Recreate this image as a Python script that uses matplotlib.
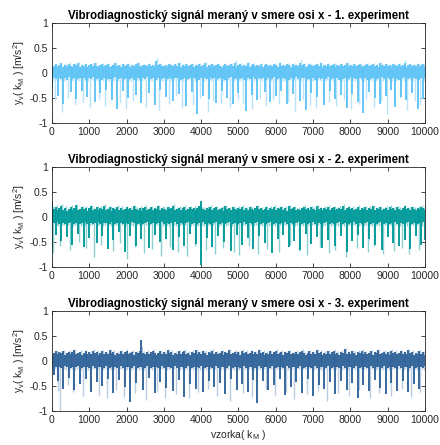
import matplotlib
matplotlib.use("Agg")
import matplotlib.pyplot as plt
import numpy as np

# the 10000 samples are far denser than the pixels, so each trace is kept as
# its top/bottom value in every 50-sample window
step = 50

hi1 = [0.10, 0.15, 0.18, 0.13, 0.16, 0.20, 0.12, 0.17, 0.14, 0.19,
       0.15, 0.12, 0.18, 0.16, 0.21, 0.13, 0.17, 0.15, 0.19, 0.12,
       0.16, 0.18, 0.14, 0.20, 0.15, 0.13, 0.17, 0.19, 0.14, 0.16,
       0.18, 0.12, 0.15, 0.17, 0.20, 0.14, 0.16, 0.13, 0.18, 0.15,
       0.17, 0.19, 0.13, 0.16, 0.14, 0.18, 0.21, 0.15, 0.12, 0.17,
       0.16, 0.14, 0.19, 0.15, 0.17, 0.13, 0.25, 0.16, 0.18, 0.14,
       0.15, 0.17, 0.13, 0.19, 0.16, 0.14, 0.18, 0.15, 0.20, 0.13,
       0.17, 0.15, 0.18, 0.14, 0.16, 0.19, 0.13, 0.17, 0.15, 0.18,
       0.14, 0.16, 0.20, 0.13, 0.17, 0.15, 0.19, 0.14, 0.16, 0.18,
       0.15, 0.13, 0.17, 0.19, 0.14, 0.16, 0.18, 0.15, 0.21, 0.13,
       0.16, 0.18, 0.14, 0.17, 0.15, 0.20, 0.13, 0.16, 0.19, 0.14,
       0.17, 0.15, 0.18, 0.13, 0.16, 0.19, 0.15, 0.17, 0.14, 0.18,
       0.16, 0.13, 0.20, 0.15, 0.17, 0.14, 0.19, 0.16, 0.13, 0.18,
       0.15, 0.17, 0.14, 0.21, 0.16, 0.18, 0.13, 0.15, 0.19, 0.17,
       0.14, 0.16, 0.18, 0.15, 0.20, 0.13, 0.17, 0.15, 0.18, 0.14,
       0.16, 0.19, 0.13, 0.17, 0.15, 0.18, 0.14, 0.16, 0.20, 0.13,
       0.17, 0.15, 0.19, 0.14, 0.16, 0.18, 0.15, 0.13, 0.17, 0.19,
       0.14, 0.16, 0.18, 0.15, 0.17, 0.13, 0.20, 0.16, 0.14, 0.18,
       0.15, 0.17, 0.13, 0.19, 0.16, 0.14, 0.18, 0.15, 0.17, 0.20,
       0.13, 0.16, 0.18, 0.14, 0.17, 0.15, 0.19, 0.13, 0.16, 0.18,
       0.12]
lo1 = [-0.30, -0.10, -0.12, -0.45, -0.09, -0.11, -0.62, -0.10, -0.13, -0.08,
       -0.38, -0.11, -0.09, -0.52, -0.12, -0.10, -0.35, -0.09, -0.13, -0.48,
       -0.10, -0.12, -0.08, -0.58, -0.11, -0.10, -0.40, -0.13, -0.09, -0.33,
       -0.11, -0.12, -0.55, -0.10, -0.08, -0.73, -0.12, -0.10, -0.36, -0.11,
       -0.09, -0.50, -0.12, -0.10, -0.13, -0.44, -0.09, -0.11, -0.60, -0.10,
       -0.12, -0.08, -0.39, -0.11, -0.10, -0.64, -0.13, -0.09, -0.34, -0.12,
       -0.10, -0.47, -0.11, -0.08, -0.12, -0.56, -0.10, -0.09, -0.41, -0.13,
       -0.11, -0.10, -0.67, -0.12, -0.09, -0.37, -0.10, -0.11, -0.83, -0.13,
       -0.09, -0.45, -0.10, -0.12, -0.52, -0.08, -0.11, -0.10, -0.61, -0.12,
       -0.09, -0.35, -0.11, -0.13, -0.49, -0.10, -0.08, -0.62, -0.12, -0.10,
       -0.40, -0.11, -0.09, -0.13, -0.76, -0.10, -0.12, -0.43, -0.08, -0.11,
       -0.54, -0.10, -0.12, -0.09, -0.38, -0.13, -0.10, -0.59, -0.11, -0.08,
       -0.46, -0.12, -0.10, -0.35, -0.09, -0.11, -0.63, -0.13, -0.10, -0.42,
       -0.12, -0.08, -0.11, -0.57, -0.10, -0.09, -0.74, -0.12, -0.11, -0.39,
       -0.10, -0.13, -0.48, -0.09, -0.12, -0.10, -0.65, -0.11, -0.08, -0.36,
       -0.12, -0.10, -0.53, -0.09, -0.13, -0.44, -0.11, -0.10, -0.70, -0.12,
       -0.08, -0.41, -0.10, -0.11, -0.58, -0.09, -0.12, -0.80, -0.10, -0.13,
       -0.37, -0.11, -0.09, -0.50, -0.12, -0.10, -0.62, -0.08, -0.11, -0.45,
       -0.10, -0.12, -0.34, -0.09, -0.68, -0.11, -0.13, -0.47, -0.10, -0.08,
       -0.55, -0.12, -0.10, -0.40, -0.09, -0.11, -0.72, -0.13, -0.10, -0.51,
       -0.10]
light_hi1 = [0.15, 0.19, 0.17, 0.14, 0.21, 0.16, 0.18, 0.20, 0.15, 0.22,
             0.17, 0.14, 0.20, 0.18, 0.23, 0.15, 0.19, 0.17, 0.21, 0.14,
             0.18, 0.20, 0.16, 0.22, 0.17, 0.15, 0.19, 0.21, 0.16, 0.18,
             0.20, 0.14, 0.17, 0.19, 0.22, 0.16, 0.18, 0.15, 0.20, 0.17,
             0.19, 0.21, 0.15, 0.18, 0.16, 0.20, 0.23, 0.17, 0.14, 0.19,
             0.18, 0.16, 0.21, 0.17, 0.19, 0.15, 0.31, 0.18, 0.20, 0.16,
             0.17, 0.19, 0.15, 0.21, 0.18, 0.16, 0.20, 0.17, 0.22, 0.15,
             0.19, 0.17, 0.20, 0.16, 0.18, 0.21, 0.15, 0.19, 0.17, 0.20,
             0.16, 0.18, 0.22, 0.15, 0.19, 0.17, 0.21, 0.16, 0.18, 0.20,
             0.17, 0.15, 0.19, 0.21, 0.16, 0.18, 0.20, 0.17, 0.26, 0.15,
             0.18, 0.20, 0.16, 0.19, 0.17, 0.22, 0.15, 0.18, 0.21, 0.16,
             0.19, 0.17, 0.20, 0.15, 0.18, 0.21, 0.17, 0.19, 0.16, 0.20,
             0.18, 0.15, 0.22, 0.17, 0.19, 0.16, 0.21, 0.18, 0.15, 0.20,
             0.17, 0.19, 0.16, 0.29, 0.18, 0.20, 0.15, 0.17, 0.21, 0.19,
             0.16, 0.18, 0.20, 0.17, 0.22, 0.15, 0.19, 0.17, 0.20, 0.16,
             0.18, 0.21, 0.15, 0.19, 0.17, 0.20, 0.16, 0.18, 0.22, 0.15,
             0.19, 0.17, 0.21, 0.16, 0.18, 0.20, 0.17, 0.15, 0.19, 0.21,
             0.16, 0.18, 0.20, 0.17, 0.19, 0.15, 0.22, 0.18, 0.16, 0.20,
             0.17, 0.19, 0.15, 0.21, 0.18, 0.16, 0.20, 0.17, 0.19, 0.27,
             0.15, 0.18, 0.20, 0.16, 0.19, 0.17, 0.21, 0.15, 0.18, 0.20,
             0.14]
light_lo1 = [-0.15, -0.55, -0.14, -0.16, -0.13, -0.78, -0.15, -0.14, -0.50, -0.16,
             -0.13, -0.15, -0.64, -0.14, -0.16, -0.13, -0.58, -0.15, -0.14, -0.16,
             -0.70, -0.13, -0.15, -0.14, -0.16, -0.52, -0.13, -0.15, -0.66, -0.14,
             -0.16, -0.45, -0.15, -0.13, -0.14, -0.16, -0.60, -0.15, -0.13, -0.72,
             -0.14, -0.16, -0.15, -0.57, -0.13, -0.14, -0.16, -0.48, -0.15, -0.13,
             -0.68, -0.14, -0.16, -0.15, -0.53, -0.13, -0.14, -0.75, -0.16, -0.15,
             -0.13, -0.14, -0.62, -0.16, -0.15, -0.13, -0.46, -0.14, -0.16, -0.71,
             -0.15, -0.58, -0.13, -0.14, -0.16, -0.65, -0.15, -0.13, -0.14, -0.50,
             -0.16, -0.15, -0.13, -0.79, -0.14, -0.16, -0.56, -0.15, -0.13, -0.14,
             -0.63, -0.16, -0.15, -0.13, -0.14, -0.69, -0.16, -0.15, -0.13, -0.54,
             -0.14, -0.16, -0.60, -0.15, -0.13, -0.14, -0.16, -0.73, -0.15, -0.13,
             -0.14, -0.49, -0.16, -0.15, -0.67, -0.13, -0.14, -0.16, -0.55, -0.15,
             -0.13, -0.62, -0.14, -0.16, -0.15, -0.13, -0.58, -0.14, -0.16, -0.15,
             -0.77, -0.13, -0.14, -0.16, -0.52, -0.15, -0.13, -0.14, -0.64, -0.16,
             -0.15, -0.70, -0.13, -0.14, -0.16, -0.47, -0.15, -0.13, -0.59, -0.14,
             -0.16, -0.15, -0.66, -0.13, -0.14, -0.16, -0.55, -0.15, -0.13, -0.14,
             -0.72, -0.16, -0.15, -0.13, -0.63, -0.14, -0.16, -0.15, -0.51, -0.13,
             -0.14, -0.16, -0.68, -0.15, -0.13, -0.14, -0.57, -0.16, -0.15, -0.82,
             -0.13, -0.14, -0.16, -0.61, -0.15, -0.13, -0.49, -0.14, -0.16, -0.15,
             -0.74, -0.13, -0.14, -0.16, -0.56, -0.15, -0.13, -0.65, -0.14, -0.16,
             -0.15]

hi2 = [0.30, 0.16, 0.20, 0.14, 0.18, 0.22, 0.15, 0.19, 0.13, 0.17,
       0.21, 0.15, 0.18, 0.24, 0.14, 0.17, 0.20, 0.16, 0.19, 0.13,
       0.18, 0.22, 0.15, 0.17, 0.20, 0.14, 0.19, 0.16, 0.23, 0.15,
       0.17, 0.20, 0.13, 0.18, 0.16, 0.21, 0.15, 0.19, 0.14, 0.17,
       0.20, 0.16, 0.18, 0.14, 0.22, 0.17, 0.15, 0.19, 0.13, 0.18,
       0.21, 0.15, 0.17, 0.20, 0.14, 0.18, 0.16, 0.22, 0.15, 0.19,
       0.17, 0.14, 0.20, 0.16, 0.18, 0.23, 0.15, 0.17, 0.19, 0.14,
       0.18, 0.21, 0.15, 0.17, 0.20, 0.16, 0.19, 0.14, 0.18, 0.22,
       0.32, 0.17, 0.15, 0.19, 0.16, 0.21, 0.14, 0.18, 0.20, 0.15,
       0.17, 0.19, 0.13, 0.22, 0.16, 0.18, 0.15, 0.20, 0.17, 0.14,
       0.19, 0.16, 0.21, 0.15, 0.18, 0.14, 0.20, 0.17, 0.15, 0.19,
       0.22, 0.16, 0.18, 0.14, 0.17, 0.20, 0.15, 0.19, 0.16, 0.21,
       0.14, 0.18, 0.17, 0.20, 0.15, 0.19, 0.13, 0.22, 0.16, 0.18,
       0.20, 0.15, 0.17, 0.14, 0.19, 0.21, 0.16, 0.18, 0.15, 0.20,
       0.17, 0.14, 0.22, 0.16, 0.18, 0.15, 0.19, 0.17, 0.21, 0.14,
       0.18, 0.20, 0.15, 0.17, 0.19, 0.16, 0.23, 0.14, 0.18, 0.20,
       0.16, 0.19, 0.15, 0.17, 0.21, 0.14, 0.18, 0.16, 0.20, 0.15,
       0.19, 0.17, 0.22, 0.14, 0.18, 0.16, 0.20, 0.15, 0.17, 0.19,
       0.14, 0.21, 0.16, 0.18, 0.15, 0.20, 0.17, 0.14, 0.19, 0.22,
       0.16, 0.18, 0.15, 0.20, 0.17, 0.14, 0.19, 0.16, 0.21, 0.18,
       0.15]
lo2 = [-0.62, -0.12, -0.35, -0.10, -0.14, -0.48, -0.11, -0.13, -0.40, -0.12,
       -0.10, -0.55, -0.13, -0.11, -0.33, -0.14, -0.12, -0.60, -0.10, -0.13,
       -0.42, -0.11, -0.14, -0.12, -0.52, -0.10, -0.13, -0.37, -0.11, -0.12,
       -0.64, -0.14, -0.10, -0.45, -0.13, -0.11, -0.30, -0.12, -0.14, -0.70,
       -0.11, -0.13, -0.38, -0.10, -0.12, -0.57, -0.14, -0.11, -0.43, -0.13,
       -0.12, -0.10, -0.62, -0.14, -0.11, -0.36, -0.13, -0.12, -0.50, -0.10,
       -0.14, -0.44, -0.11, -0.13, -0.12, -0.66, -0.10, -0.14, -0.39, -0.11,
       -0.13, -0.58, -0.12, -0.10, -0.34, -0.14, -0.11, -0.53, -0.13, -0.12,
       -0.95, -0.10, -0.14, -0.41, -0.11, -0.13, -0.60, -0.12, -0.10, -0.37,
       -0.14, -0.11, -0.49, -0.13, -0.12, -0.10, -0.68, -0.14, -0.11, -0.35,
       -0.13, -0.12, -0.55, -0.10, -0.14, -0.42, -0.11, -0.13, -0.63, -0.12,
       -0.10, -0.38, -0.14, -0.11, -0.51, -0.13, -0.12, -0.10, -0.72, -0.14,
       -0.11, -0.44, -0.13, -0.12, -0.36, -0.10, -0.14, -0.59, -0.11, -0.13,
       -0.47, -0.12, -0.10, -0.65, -0.14, -0.11, -0.33, -0.13, -0.12, -0.54,
       -0.10, -0.14, -0.40, -0.11, -0.13, -0.62, -0.12, -0.10, -0.45, -0.14,
       -0.11, -0.13, -0.57, -0.12, -0.10, -0.38, -0.14, -0.11, -0.69, -0.13,
       -0.12, -0.48, -0.10, -0.14, -0.35, -0.11, -0.13, -0.61, -0.12, -0.10,
       -0.43, -0.14, -0.11, -0.56, -0.13, -0.12, -0.10, -0.66, -0.14, -0.11,
       -0.39, -0.13, -0.12, -0.52, -0.10, -0.14, -0.58, -0.11, -0.13, -0.46,
       -0.12, -0.10, -0.64, -0.14, -0.11, -0.37, -0.13, -0.12, -0.55, -0.10,
       -0.45]
light_hi2 = [0.22, 0.19, 0.24, 0.18, 0.21, 0.26, 0.19, 0.22, 0.17, 0.20,
             0.24, 0.18, 0.21, 0.27, 0.17, 0.20, 0.23, 0.19, 0.22, 0.16,
             0.21, 0.25, 0.18, 0.20, 0.23, 0.17, 0.22, 0.19, 0.26, 0.18,
             0.20, 0.23, 0.16, 0.21, 0.19, 0.24, 0.18, 0.22, 0.17, 0.20,
             0.23, 0.19, 0.21, 0.17, 0.25, 0.20, 0.18, 0.22, 0.16, 0.21,
             0.24, 0.18, 0.20, 0.23, 0.17, 0.21, 0.19, 0.25, 0.18, 0.22,
             0.20, 0.17, 0.23, 0.19, 0.21, 0.26, 0.18, 0.20, 0.22, 0.17,
             0.21, 0.24, 0.18, 0.20, 0.23, 0.19, 0.22, 0.17, 0.21, 0.25,
             0.20, 0.20, 0.18, 0.22, 0.19, 0.24, 0.17, 0.21, 0.23, 0.18,
             0.20, 0.22, 0.16, 0.25, 0.19, 0.21, 0.18, 0.23, 0.20, 0.17,
             0.22, 0.19, 0.24, 0.18, 0.21, 0.17, 0.23, 0.20, 0.18, 0.22,
             0.25, 0.19, 0.21, 0.17, 0.20, 0.23, 0.18, 0.22, 0.19, 0.24,
             0.17, 0.21, 0.20, 0.23, 0.18, 0.22, 0.16, 0.25, 0.19, 0.21,
             0.23, 0.18, 0.20, 0.17, 0.22, 0.24, 0.19, 0.21, 0.18, 0.23,
             0.20, 0.17, 0.25, 0.19, 0.21, 0.18, 0.22, 0.20, 0.24, 0.17,
             0.21, 0.23, 0.18, 0.20, 0.22, 0.19, 0.26, 0.17, 0.21, 0.23,
             0.19, 0.22, 0.18, 0.20, 0.24, 0.17, 0.21, 0.19, 0.23, 0.18,
             0.22, 0.20, 0.25, 0.17, 0.21, 0.19, 0.23, 0.18, 0.20, 0.22,
             0.17, 0.24, 0.19, 0.21, 0.18, 0.23, 0.20, 0.17, 0.22, 0.25,
             0.19, 0.21, 0.18, 0.23, 0.20, 0.17, 0.22, 0.19, 0.24, 0.21,
             0.18]
light_lo2 = [-0.72, -0.16, -0.15, -0.17, -0.58, -0.16, -0.15, -0.17, -0.16, -0.66,
             -0.15, -0.17, -0.16, -0.15, -0.50, -0.17, -0.16, -0.15, -0.61, -0.17,
             -0.16, -0.15, -0.80, -0.17, -0.16, -0.15, -0.55, -0.17, -0.16, -0.15,
             -0.16, -0.17, -0.68, -0.15, -0.16, -0.17, -0.52, -0.15, -0.16, -0.17,
             -0.83, -0.15, -0.16, -0.17, -0.59, -0.15, -0.16, -0.17, -0.15, -0.71,
             -0.16, -0.17, -0.15, -0.64, -0.16, -0.17, -0.15, -0.16, -0.77, -0.17,
             -0.15, -0.16, -0.17, -0.60, -0.15, -0.16, -0.17, -0.70, -0.15, -0.16,
             -0.17, -0.15, -0.78, -0.16, -0.17, -0.15, -0.57, -0.16, -0.17, -0.15,
             -0.16, -0.17, -0.66, -0.15, -0.16, -0.17, -0.15, -0.74, -0.16, -0.17,
             -0.15, -0.62, -0.16, -0.17, -0.15, -0.16, -0.17, -0.69, -0.15, -0.16,
             -0.76, -0.17, -0.15, -0.16, -0.17, -0.58, -0.15, -0.16, -0.17, -0.15,
             -0.73, -0.16, -0.17, -0.15, -0.16, -0.63, -0.17, -0.15, -0.16, -0.17,
             -0.15, -0.70, -0.16, -0.17, -0.15, -0.16, -0.17, -0.56, -0.15, -0.16,
             -0.17, -0.15, -0.67, -0.16, -0.17, -0.15, -0.76, -0.16, -0.17, -0.15,
             -0.16, -0.17, -0.15, -0.60, -0.16, -0.17, -0.15, -0.16, -0.72, -0.17,
             -0.15, -0.65, -0.16, -0.17, -0.15, -0.16, -0.17, -0.79, -0.15, -0.16,
             -0.17, -0.15, -0.16, -0.62, -0.17, -0.15, -0.16, -0.17, -0.15, -0.70,
             -0.16, -0.17, -0.57, -0.15, -0.16, -0.17, -0.15, -0.74, -0.16, -0.17,
             -0.15, -0.16, -0.17, -0.68, -0.15, -0.16, -0.17, -0.61, -0.15, -0.16,
             -0.17, -0.73, -0.15, -0.16, -0.17, -0.15, -0.66, -0.16, -0.17, -0.15,
             -0.16]

hi3 = [0.12, 0.17, 0.21, 0.14, 0.18, 0.16, 0.20, 0.13, 0.17, 0.19,
       0.15, 0.18, 0.22, 0.14, 0.16, 0.19, 0.13, 0.17, 0.20, 0.15,
       0.18, 0.14, 0.21, 0.16, 0.19, 0.13, 0.17, 0.20, 0.15, 0.18,
       0.14, 0.22, 0.16, 0.19, 0.13, 0.17, 0.15, 0.20, 0.14, 0.18,
       0.21, 0.15, 0.17, 0.19, 0.13, 0.18, 0.16, 0.20, 0.42, 0.17,
       0.15, 0.19, 0.14, 0.18, 0.21, 0.16, 0.13, 0.17, 0.20, 0.15,
       0.18, 0.14, 0.22, 0.16, 0.19, 0.13, 0.17, 0.15, 0.20, 0.14,
       0.18, 0.21, 0.15, 0.17, 0.13, 0.19, 0.16, 0.22, 0.14, 0.18,
       0.15, 0.20, 0.17, 0.13, 0.19, 0.16, 0.21, 0.14, 0.18, 0.15,
       0.17, 0.20, 0.13, 0.18, 0.16, 0.22, 0.14, 0.17, 0.19, 0.15,
       0.18, 0.13, 0.21, 0.16, 0.19, 0.14, 0.17, 0.20, 0.15, 0.18,
       0.14, 0.22, 0.16, 0.19, 0.13, 0.17, 0.15, 0.20, 0.14, 0.18,
       0.21, 0.15, 0.17, 0.19, 0.13, 0.18, 0.16, 0.20, 0.14, 0.17,
       0.15, 0.19, 0.14, 0.18, 0.21, 0.16, 0.13, 0.17, 0.20, 0.15,
       0.18, 0.14, 0.22, 0.16, 0.19, 0.13, 0.17, 0.15, 0.20, 0.14,
       0.18, 0.21, 0.15, 0.17, 0.13, 0.19, 0.16, 0.24, 0.14, 0.18,
       0.15, 0.20, 0.17, 0.13, 0.19, 0.16, 0.21, 0.14, 0.18, 0.15,
       0.17, 0.20, 0.13, 0.18, 0.16, 0.22, 0.14, 0.17, 0.19, 0.15,
       0.18, 0.13, 0.21, 0.16, 0.19, 0.14, 0.17, 0.20, 0.15, 0.18,
       0.14, 0.22, 0.16, 0.19, 0.13, 0.17, 0.15, 0.20, 0.14, 0.18,
       0.13]
lo3 = [-0.10, -0.28, -0.12, -0.40, -0.11, -0.13, -0.55, -0.10, -0.12, -0.33,
       -0.14, -0.11, -0.58, -0.12, -0.10, -0.45, -0.13, -0.11, -0.36, -0.12,
       -0.14, -0.61, -0.10, -0.13, -0.42, -0.11, -0.12, -0.50, -0.14, -0.10,
       -0.35, -0.13, -0.11, -0.63, -0.12, -0.14, -0.38, -0.10, -0.13, -0.52,
       -0.11, -0.12, -0.82, -0.14, -0.10, -0.44, -0.13, -0.11, -0.12, -0.57,
       -0.14, -0.10, -0.34, -0.13, -0.11, -0.64, -0.12, -0.14, -0.41, -0.10,
       -0.13, -0.53, -0.11, -0.12, -0.14, -0.60, -0.10, -0.13, -0.37, -0.11,
       -0.12, -0.72, -0.14, -0.10, -0.46, -0.13, -0.11, -0.55, -0.12, -0.14,
       -0.10, -0.62, -0.13, -0.11, -0.39, -0.12, -0.14, -0.51, -0.10, -0.13,
       -0.43, -0.11, -0.12, -0.66, -0.14, -0.10, -0.36, -0.13, -0.11, -0.57,
       -0.12, -0.14, -0.45, -0.10, -0.13, -0.61, -0.11, -0.12, -0.38, -0.14,
       -0.84, -0.10, -0.13, -0.40, -0.11, -0.12, -0.58, -0.14, -0.10, -0.47,
       -0.13, -0.11, -0.35, -0.12, -0.14, -0.68, -0.10, -0.13, -0.52, -0.11,
       -0.12, -0.42, -0.14, -0.10, -0.63, -0.13, -0.11, -0.36, -0.12, -0.14,
       -0.70, -0.10, -0.13, -0.48, -0.11, -0.12, -0.56, -0.14, -0.10, -0.41,
       -0.13, -0.11, -0.65, -0.12, -0.14, -0.39, -0.10, -0.13, -0.58, -0.11,
       -0.12, -0.44, -0.14, -0.10, -0.73, -0.13, -0.11, -0.47, -0.12, -0.14,
       -0.60, -0.10, -0.13, -0.37, -0.11, -0.12, -0.54, -0.14, -0.10, -0.66,
       -0.13, -0.11, -0.43, -0.12, -0.14, -0.59, -0.10, -0.13, -0.40, -0.11,
       -0.12, -0.62, -0.14, -0.10, -0.45, -0.13, -0.11, -0.55, -0.12, -0.14,
       -0.10]
light_hi3 = [0.16, 0.20, 0.23, 0.17, 0.21, 0.18, 0.22, 0.16, 0.20, 0.23,
             0.17, 0.21, 0.25, 0.16, 0.19, 0.22, 0.15, 0.20, 0.23, 0.18,
             0.21, 0.16, 0.24, 0.19, 0.22, 0.15, 0.20, 0.23, 0.18, 0.21,
             0.16, 0.25, 0.19, 0.22, 0.15, 0.20, 0.18, 0.23, 0.16, 0.21,
             0.24, 0.18, 0.20, 0.22, 0.15, 0.21, 0.19, 0.23, 0.30, 0.20,
             0.18, 0.22, 0.16, 0.21, 0.24, 0.19, 0.15, 0.20, 0.23, 0.18,
             0.21, 0.16, 0.25, 0.19, 0.22, 0.15, 0.20, 0.18, 0.23, 0.16,
             0.21, 0.24, 0.18, 0.20, 0.15, 0.22, 0.19, 0.25, 0.16, 0.21,
             0.18, 0.23, 0.20, 0.15, 0.22, 0.19, 0.24, 0.16, 0.21, 0.18,
             0.20, 0.23, 0.15, 0.21, 0.19, 0.25, 0.16, 0.20, 0.22, 0.18,
             0.21, 0.15, 0.24, 0.19, 0.22, 0.16, 0.20, 0.23, 0.18, 0.21,
             0.16, 0.25, 0.19, 0.22, 0.15, 0.20, 0.18, 0.23, 0.16, 0.21,
             0.24, 0.18, 0.20, 0.22, 0.15, 0.21, 0.19, 0.23, 0.16, 0.20,
             0.18, 0.22, 0.16, 0.21, 0.24, 0.19, 0.15, 0.20, 0.23, 0.18,
             0.21, 0.16, 0.25, 0.19, 0.22, 0.15, 0.20, 0.18, 0.23, 0.16,
             0.21, 0.24, 0.18, 0.20, 0.15, 0.22, 0.19, 0.27, 0.16, 0.21,
             0.18, 0.23, 0.20, 0.15, 0.22, 0.19, 0.24, 0.16, 0.21, 0.18,
             0.20, 0.23, 0.15, 0.21, 0.19, 0.25, 0.16, 0.20, 0.22, 0.18,
             0.21, 0.15, 0.24, 0.19, 0.22, 0.16, 0.20, 0.23, 0.18, 0.21,
             0.16, 0.25, 0.19, 0.22, 0.15, 0.20, 0.18, 0.23, 0.16, 0.21,
             0.15]
light_lo3 = [-0.16, -0.15, -0.17, -0.60, -1.00, -0.15, -0.16, -0.17, -0.48, -0.15,
             -0.16, -0.62, -0.17, -0.15, -0.16, -0.17, -0.70, -0.15, -0.16, -0.17,
             -0.55, -0.15, -0.16, -0.17, -0.15, -0.67, -0.16, -0.17, -0.15, -0.74,
             -0.16, -0.17, -0.15, -0.16, -0.58, -0.17, -0.15, -0.16, -0.71, -0.17,
             -0.15, -0.16, -0.17, -0.15, -0.64, -0.16, -0.17, -0.15, -0.16, -0.17,
             -0.77, -0.15, -0.16, -0.17, -0.15, -0.16, -0.60, -0.17, -0.15, -0.16,
             -0.73, -0.17, -0.15, -0.16, -0.17, -0.15, -0.66, -0.16, -0.17, -0.15,
             -0.16, -0.17, -0.15, -0.74, -0.16, -0.17, -0.15, -0.16, -0.62, -0.17,
             -0.15, -0.16, -0.17, -0.55, -0.15, -0.16, -0.17, -0.15, -0.69, -0.16,
             -0.17, -0.15, -0.16, -0.17, -0.15, -0.80, -0.16, -0.17, -0.15, -0.16,
             -0.17, -0.15, -0.63, -0.16, -0.17, -0.15, -0.16, -0.72, -0.17, -0.15,
             -0.16, -0.17, -0.15, -0.16, -0.57, -0.17, -0.15, -0.16, -0.17, -0.68,
             -0.15, -0.16, -0.17, -0.15, -0.16, -0.61, -0.17, -0.15, -0.16, -0.75,
             -0.17, -0.15, -0.16, -0.17, -0.15, -0.16, -0.66, -0.17, -0.15, -0.16,
             -0.17, -0.15, -0.59, -0.16, -0.17, -0.15, -0.16, -0.79, -0.17, -0.15,
             -0.16, -0.17, -0.15, -0.64, -0.16, -0.17, -0.15, -0.16, -0.17, -0.70,
             -0.15, -0.16, -0.17, -0.15, -0.58, -0.16, -0.17, -0.15, -0.16, -0.17,
             -0.74, -0.15, -0.16, -0.17, -0.15, -0.63, -0.16, -0.17, -0.15, -0.16,
             -0.17, -0.69, -0.15, -0.16, -0.17, -0.15, -0.16, -0.55, -0.17, -0.15,
             -0.16, -0.17, -0.72, -0.15, -0.16, -0.17, -0.15, -0.61, -0.16, -0.17,
             -0.15]

titles = ["Vibrodiagnostický signál meraný v smere osi x - 1. experiment",
          "Vibrodiagnostický signál meraný v smere osi x - 2. experiment",
          "Vibrodiagnostický signál meraný v smere osi x - 3. experiment"]
dark_colors = ["#5ec4f6", "#009999", "#2f6399"]
light_colors = ["#b8e2f8", "#8ad0d0", "#b8cbe0"]
x_ticks = [0, 1000, 2000, 3000, 4000, 5000, 6000, 7000, 8000, 9000, 10000]
y_ticks = [-1, -0.5, 0, 0.5, 1]
y_tick_labels = ["-1", "-0.5", "0", "0.5", "1"]

plt.rcParams['font.family'] = ['Liberation Sans', 'DejaVu Sans']
plt.rcParams['mathtext.default'] = 'regular'

fig = plt.figure(figsize=(4.4, 4.45), dpi=100)
bottoms = [0.7236, 0.40, 0.0764]
dark = [(hi1, lo1), (hi2, lo2), (hi3, lo3)]
light = [(light_hi1, light_lo1), (light_hi2, light_lo2), (light_hi3, light_lo3)]

for i in range(3):
    ax = fig.add_axes([0.118, bottoms[i], 0.848, 0.2247])
    lh, ll = light[i]
    n = min(len(lh), len(ll))
    ax.vlines(step / 2 + step * np.arange(n), ll[:n], lh[:n],
              color=light_colors[i], linewidth=1.0)
    dh, dl = dark[i]
    n = min(len(dh), len(dl))
    ax.vlines(step * np.arange(n), dl[:n], dh[:n],
              color=dark_colors[i], linewidth=1.35)
    ax.set_xlim(0, 10000)
    ax.set_ylim(-1, 1)
    ax.set_xticks(x_ticks)
    ax.set_xticklabels([str(t) for t in x_ticks])
    ax.set_yticks(y_ticks)
    ax.set_yticklabels(y_tick_labels)
    ax.tick_params(direction='in', length=3, width=0.6, labelsize=7.5,
                   colors='#262626', top=True, right=True, pad=3)
    for s in ax.spines.values():
        s.set_color('#262626')
        s.set_linewidth(0.6)
        s.set_zorder(3)
    ax.set_title(titles[i], fontsize=8.3, fontweight='bold', pad=3)
    ax.set_ylabel(r'y$_v$( k$_M$ ) [m/s$^2$]', fontsize=7.5, color='#262626', labelpad=2)

ax.set_xlabel(r'vzorka( k$_M$ )', fontsize=7.5, color='#262626', labelpad=2)

fig.savefig("out.png", dpi=100)
